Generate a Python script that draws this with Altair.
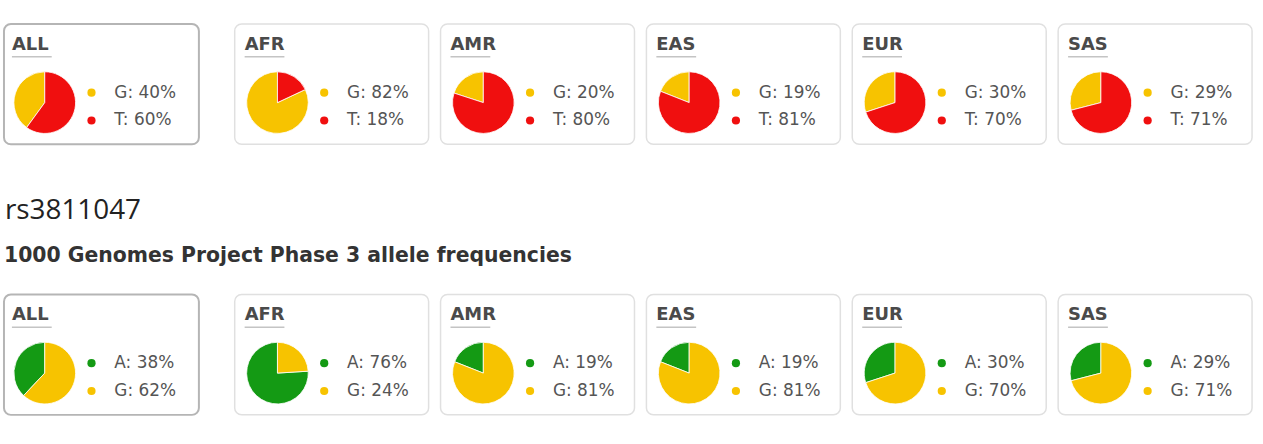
import altair as alt
import pandas as pd

# ---- data ----
populations = ["ALL", "AFR", "AMR", "EAS", "EUR", "SAS"]

snp1_alleles = ["G", "T"]
snp1_first = [40, 82, 20, 19, 30, 29]    # G %
snp1_second = [60, 18, 80, 81, 70, 71]   # T %

snp2_id = "rs3811047"
snp2_header = "1000 Genomes Project Phase 3 allele frequencies"
snp2_alleles = ["A", "G"]
snp2_first = [38, 76, 19, 19, 30, 29]    # A %
snp2_second = [62, 24, 81, 81, 70, 71]   # G %

allele_domain = ["A", "G", "T"]
allele_colors = ["#149a14", "#f7c300", "#f00f0f"]

LABEL_FONT = "DejaVu Sans"


def panel(pop, alleles, vals, selected, height):
    df = pd.DataFrame({
        "pop": [pop, pop],
        "allele": alleles,
        "pct": vals,
        "ord": [1, 0],          # second allele is drawn first, clockwise from 12 o'clock
        "pos": [0, 1],
        "label": [f"{a}: {v}%" for a, v in zip(alleles, vals)],
    })
    inset = 0 if selected else 2
    base = alt.Chart(df)
    color = alt.Color("allele:N",
                      scale=alt.Scale(domain=allele_domain, range=allele_colors),
                      legend=None)
    ypos = alt.Y("pos:Q", scale=alt.Scale(domain=[0, 1], range=[69, 97]), axis=None)

    title = base.transform_filter("datum.pos == 0").mark_text(
        align="left", baseline="alphabetic", font=LABEL_FONT, fontSize=18,
        fontWeight="bold", color="#4a4a4a"
    ).encode(text="pop:N", x=alt.value(8 + inset), y=alt.value(26))

    underline = base.transform_filter("datum.pos == 0").mark_rule(
        color="#c4c4c4", strokeWidth=1.5
    ).encode(x=alt.value(8 + inset), x2=alt.value(48 + inset), y=alt.value(33))

    pie = base.mark_arc(radius=31, stroke="white", strokeWidth=0.8).encode(
        theta=alt.Theta("pct:Q", stack=True, scale=alt.Scale(domain=[0, 100])),
        color=color,
        order=alt.Order("ord:Q"),
        x=alt.value(41 + inset),
        y=alt.value(79),
    )

    dots = base.mark_point(filled=True, shape="circle", size=68, opacity=1).encode(
        x=alt.value(88 + inset), y=ypos, color=color
    )

    labels = base.mark_text(
        align="left", baseline="middle", font=LABEL_FONT, fontSize=17, color="#555555"
    ).encode(x=alt.value(111 + inset), y=ypos, text="label:N")

    view = alt.ViewBackground(
        stroke="#b5b5b5" if selected else "#e0e0e0",
        strokeWidth=2 if selected else 1.5,
        cornerRadius=7,
        fill="white",
    )
    return alt.layer(title, underline, pie, dots, labels).properties(
        width=196 if selected else 195, height=height, view=view
    )


def row(alleles, first, second, height):
    panels = [panel(p, alleles, [a, b], i == 0, height)
              for i, (p, a, b) in enumerate(zip(populations, first, second))]
    return alt.hconcat(panels[0], alt.hconcat(*panels[1:], spacing=10), spacing=34)


row1 = row(snp1_alleles, snp1_first, snp1_second, 121)
row2 = row(snp2_alleles, snp2_first, snp2_second, 121)

texts = alt.layer(
    alt.Chart(pd.DataFrame({"t": [snp2_id]})).mark_text(
        align="left", baseline="alphabetic", font="Open Sans", fontSize=28, color="#222222"
    ).encode(text="t:N", x=alt.value(1), y=alt.value(74)),
    alt.Chart(pd.DataFrame({"t": [snp2_header]})).mark_text(
        align="left", baseline="alphabetic", font=LABEL_FONT, fontSize=20.5,
        fontWeight="bold", color="#333333"
    ).encode(text="t:N", x=alt.value(0), y=alt.value(117)),
).properties(width=1240, height=149, view=alt.ViewBackground(strokeOpacity=0))

chart = alt.vconcat(row1, texts, row2, spacing=0).properties(
    padding={"left": 3, "top": 22, "right": 10, "bottom": 5},
    background="white",
)

chart.save("out.html", embed_options={"renderer": "svg", "actions": False})
